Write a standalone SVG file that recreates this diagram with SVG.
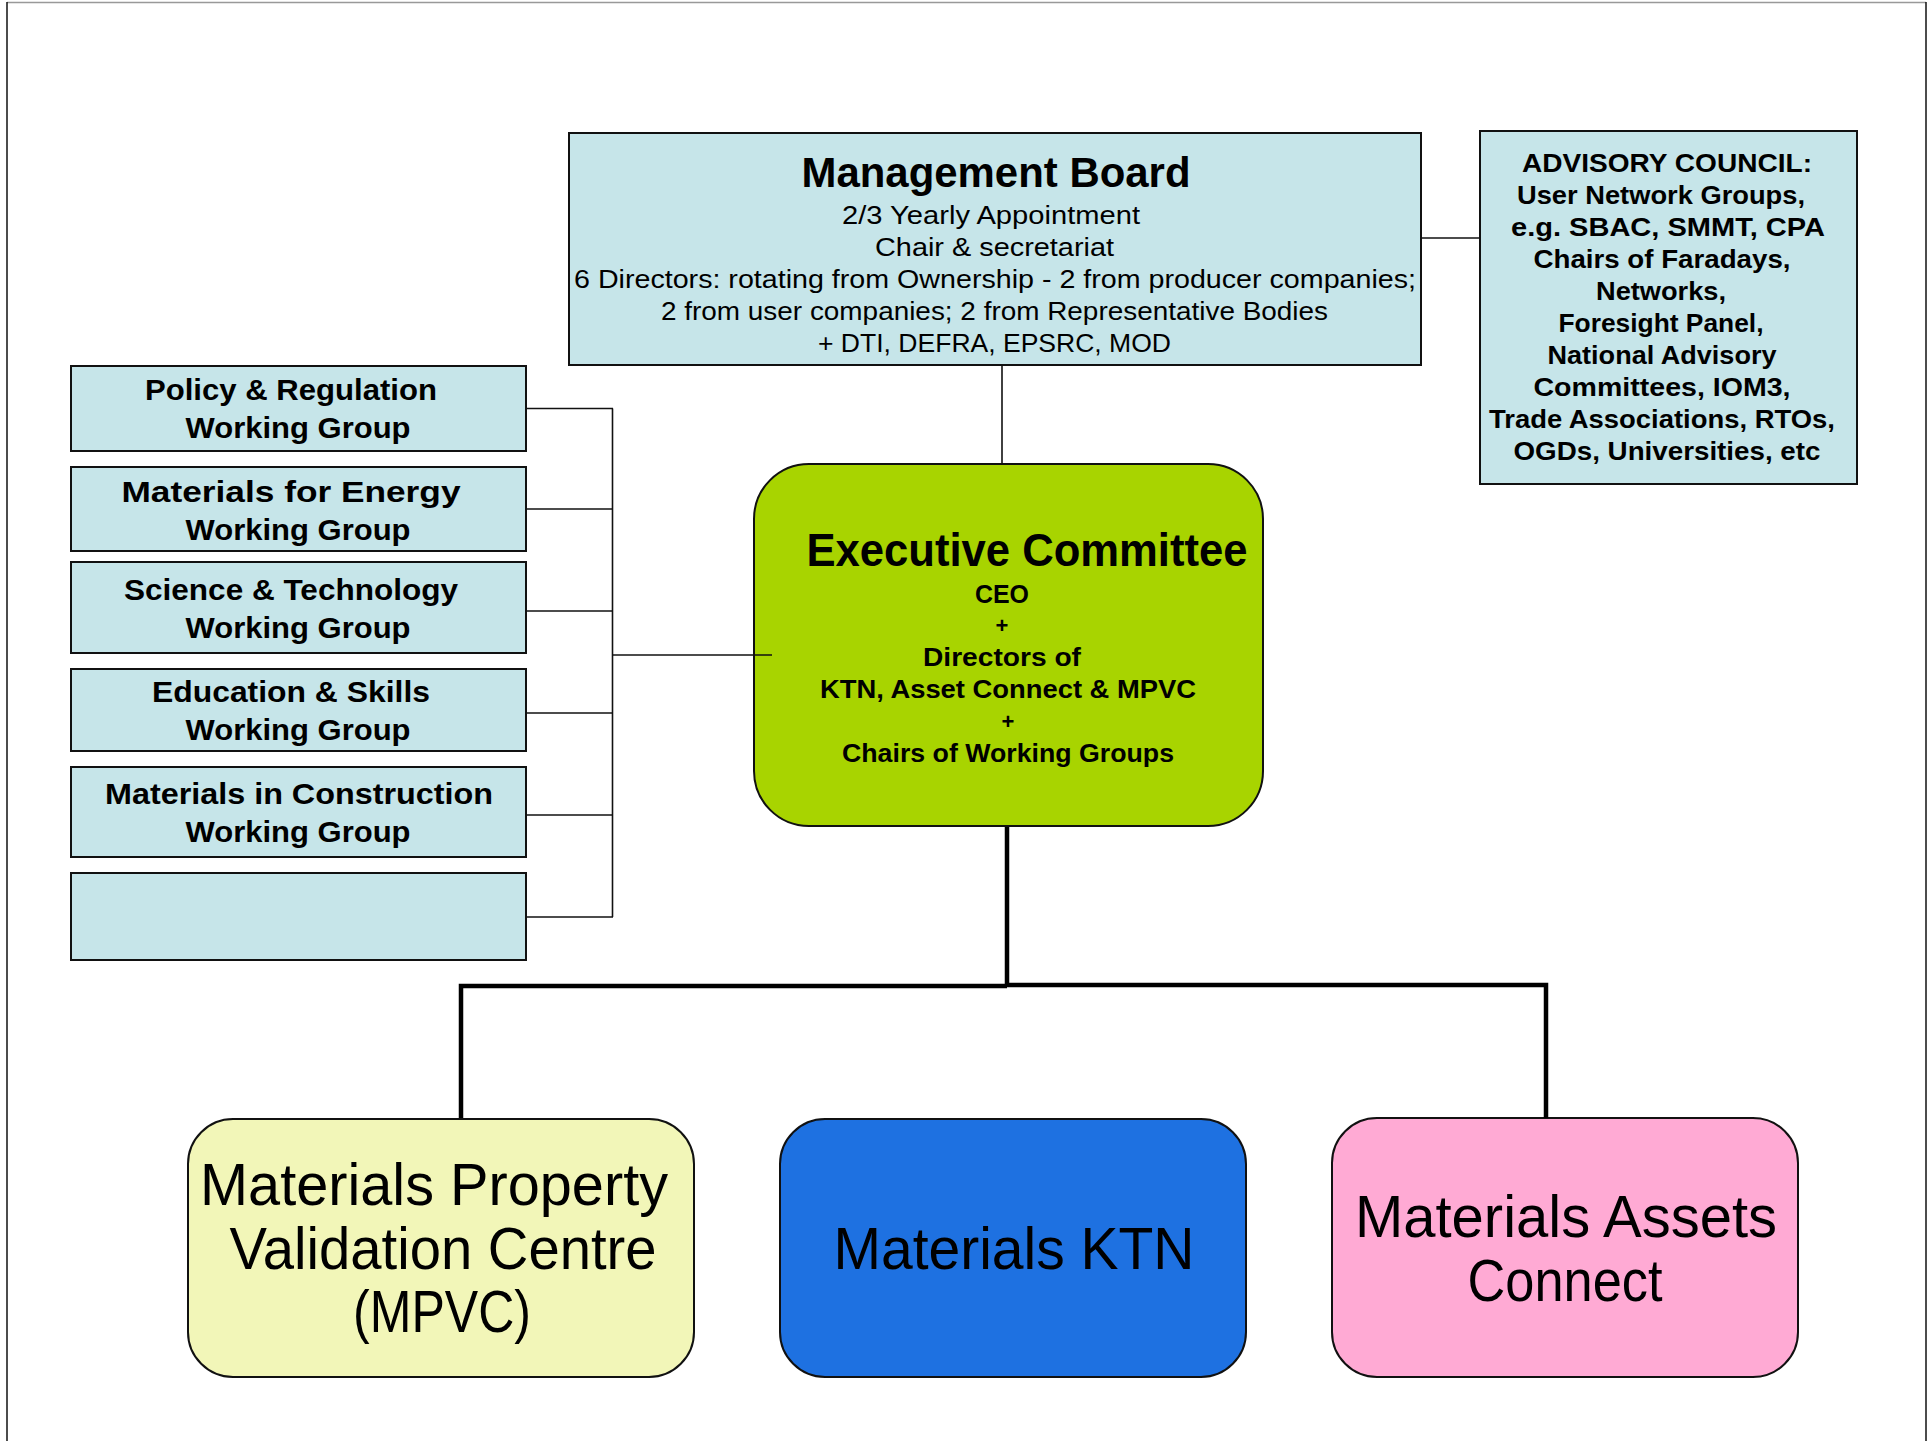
<svg xmlns="http://www.w3.org/2000/svg" width="1928" height="1441" viewBox="0 0 1928 1441">
<style>
.box{fill:#c6e5e9;stroke:#111;stroke-width:2}
.t{font-family:"Comic Sans MS","Liberation Sans","DejaVu Sans",sans-serif;fill:#000;text-anchor:middle}
.b{font-weight:bold}
.conn{stroke:#111;stroke-width:1.6;fill:none}
.thick{stroke:#000;stroke-width:4.5;fill:none}
</style>
<rect x="0" y="0" width="1928" height="1441" fill="#fff"/>
<g id="page-border">
<line x1="7" y1="2.5" x2="1926" y2="2.5" stroke="#999" stroke-width="1.5"/>
<line x1="7" y1="2" x2="7" y2="1441" stroke="#111" stroke-width="1.5"/>
<line x1="1926" y1="2" x2="1926" y2="1441" stroke="#111" stroke-width="1.5"/>
</g>
<g id="management-board">
<rect class="box" x="569" y="133" width="852" height="232"/>
<text class="t b" x="996" y="187" font-size="42" textLength="389" lengthAdjust="spacingAndGlyphs">Management Board</text>
<text class="t" x="991" y="224" font-size="26" textLength="298" lengthAdjust="spacingAndGlyphs">2/3 Yearly Appointment</text>
<text class="t" x="994.5" y="256" font-size="26" textLength="239" lengthAdjust="spacingAndGlyphs">Chair &amp; secretariat</text>
<text class="t" x="995" y="288" font-size="26" textLength="842" lengthAdjust="spacingAndGlyphs">6 Directors: rotating from Ownership - 2 from producer companies;</text>
<text class="t" x="994.5" y="320" font-size="26" textLength="667" lengthAdjust="spacingAndGlyphs">2 from user companies; 2 from Representative Bodies</text>
<text class="t" x="994.5" y="352" font-size="26" textLength="353" lengthAdjust="spacingAndGlyphs">+ DTI, DEFRA, EPSRC, MOD</text>
</g>
<g id="advisory-council">
<rect class="box" x="1480" y="131" width="377" height="353"/>
<text class="t b" x="1667" y="172" font-size="25" textLength="290" lengthAdjust="spacingAndGlyphs">ADVISORY COUNCIL:</text>
<text class="t b" x="1661" y="204" font-size="25" textLength="288" lengthAdjust="spacingAndGlyphs">User Network Groups,</text>
<text class="t b" x="1668" y="236" font-size="25" textLength="314" lengthAdjust="spacingAndGlyphs">e.g. SBAC, SMMT, CPA</text>
<text class="t b" x="1662" y="268" font-size="25" textLength="257" lengthAdjust="spacingAndGlyphs">Chairs of Faradays,</text>
<text class="t b" x="1661" y="300" font-size="25" textLength="130" lengthAdjust="spacingAndGlyphs">Networks,</text>
<text class="t b" x="1661" y="332" font-size="25" textLength="205" lengthAdjust="spacingAndGlyphs">Foresight Panel,</text>
<text class="t b" x="1662" y="364" font-size="25" textLength="229" lengthAdjust="spacingAndGlyphs">National Advisory</text>
<text class="t b" x="1662" y="396" font-size="25" textLength="257" lengthAdjust="spacingAndGlyphs">Committees, IOM3,</text>
<text class="t b" x="1662" y="428" font-size="25" textLength="346" lengthAdjust="spacingAndGlyphs">Trade Associations, RTOs,</text>
<text class="t b" x="1667" y="460" font-size="25" textLength="307" lengthAdjust="spacingAndGlyphs">OGDs, Universities, etc</text>
</g>
<g id="wg-policy">
<rect class="box" x="71" y="366" width="455" height="85"/>
<text class="t b" x="291" y="400" font-size="30" textLength="292" lengthAdjust="spacingAndGlyphs">Policy &amp; Regulation</text>
<text class="t b" x="298" y="438" font-size="30" textLength="225" lengthAdjust="spacingAndGlyphs">Working Group</text>
</g>
<g id="wg-energy">
<rect class="box" x="71" y="467" width="455" height="84"/>
<text class="t b" x="291" y="502" font-size="30" textLength="339" lengthAdjust="spacingAndGlyphs">Materials for  Energy</text>
<text class="t b" x="298" y="540" font-size="30" textLength="225" lengthAdjust="spacingAndGlyphs">Working Group</text>
</g>
<g id="wg-science">
<rect class="box" x="71" y="562" width="455" height="91"/>
<text class="t b" x="291" y="600" font-size="30" textLength="334" lengthAdjust="spacingAndGlyphs">Science &amp; Technology</text>
<text class="t b" x="298" y="638" font-size="30" textLength="225" lengthAdjust="spacingAndGlyphs">Working Group</text>
</g>
<g id="wg-education">
<rect class="box" x="71" y="669" width="455" height="82"/>
<text class="t b" x="291" y="702" font-size="30" textLength="278" lengthAdjust="spacingAndGlyphs">Education &amp; Skills</text>
<text class="t b" x="298" y="740" font-size="30" textLength="225" lengthAdjust="spacingAndGlyphs">Working Group</text>
</g>
<g id="wg-construction">
<rect class="box" x="71" y="767" width="455" height="90"/>
<text class="t b" x="299" y="804" font-size="30" textLength="388" lengthAdjust="spacingAndGlyphs">Materials in Construction</text>
<text class="t b" x="298" y="842" font-size="30" textLength="225" lengthAdjust="spacingAndGlyphs">Working Group</text>
</g>
<g id="wg-empty">
<rect class="box" x="71" y="873" width="455" height="87"/>
</g>
<g id="executive-committee">
<rect x="754" y="464" width="509" height="362" rx="55" ry="55" fill="#a8d400" stroke="#111" stroke-width="2"/>
<text class="t b" x="1027" y="566" font-size="46" textLength="441" lengthAdjust="spacingAndGlyphs">Executive Committee</text>
<text class="t b" x="1002" y="603" font-size="26" textLength="54" lengthAdjust="spacingAndGlyphs">CEO</text>
<text class="t b" x="1002" y="633" font-size="22">+</text>
<text class="t b" x="1002" y="666" font-size="26" textLength="158" lengthAdjust="spacingAndGlyphs">Directors of</text>
<text class="t b" x="1008" y="698" font-size="26" textLength="376" lengthAdjust="spacingAndGlyphs">KTN, Asset Connect &amp; MPVC</text>
<text class="t b" x="1008" y="729" font-size="22">+</text>
<text class="t b" x="1008" y="762" font-size="26" textLength="332" lengthAdjust="spacingAndGlyphs">Chairs of Working Groups</text>
</g>
<g id="mpvc">
<rect x="188" y="1119" width="506" height="258" rx="45" ry="45" fill="#f2f6b8" stroke="#111" stroke-width="2"/>
<text class="t" x="434" y="1205" font-size="60" textLength="468" lengthAdjust="spacingAndGlyphs">Materials Property</text>
<text class="t" x="443" y="1269" font-size="60" textLength="427" lengthAdjust="spacingAndGlyphs">Validation Centre</text>
<text class="t" x="442" y="1332" font-size="60" textLength="178" lengthAdjust="spacingAndGlyphs">(MPVC)</text>
</g>
<g id="materials-ktn">
<rect x="780" y="1119" width="466" height="258" rx="45" ry="45" fill="#1e71e1" stroke="#111" stroke-width="2"/>
<text class="t" x="1014" y="1269" font-size="60" textLength="361" lengthAdjust="spacingAndGlyphs">Materials KTN</text>
</g>
<g id="materials-assets-connect">
<rect x="1332" y="1118" width="466" height="259" rx="45" ry="45" fill="#ffaad4" stroke="#111" stroke-width="2"/>
<text class="t" x="1566" y="1237" font-size="60" textLength="422" lengthAdjust="spacingAndGlyphs">Materials Assets</text>
<text class="t" x="1565" y="1301" font-size="60" textLength="195" lengthAdjust="spacingAndGlyphs">Connect</text>
</g>
<g id="connectors">
<line class="conn" x1="1421" y1="238" x2="1480" y2="238"/>
<line class="conn" x1="1002" y1="365" x2="1002" y2="464"/>
<line class="conn" x1="612.5" y1="408.5" x2="612.5" y2="917"/>
<line class="conn" x1="526" y1="408.5" x2="613" y2="408.5"/>
<line class="conn" x1="526" y1="509" x2="613" y2="509"/>
<line class="conn" x1="526" y1="611" x2="613" y2="611"/>
<line class="conn" x1="526" y1="713" x2="613" y2="713"/>
<line class="conn" x1="526" y1="815" x2="613" y2="815"/>
<line class="conn" x1="526" y1="917" x2="613" y2="917"/>
<line class="conn" x1="612" y1="655" x2="772" y2="655"/>
<line class="thick" x1="1007" y1="827" x2="1007" y2="986"/>
<polyline class="thick" points="461,1118 461,986 1007,986"/>
<polyline class="thick" points="1007,985 1546,985 1546,1118"/>
</g>
</svg>
